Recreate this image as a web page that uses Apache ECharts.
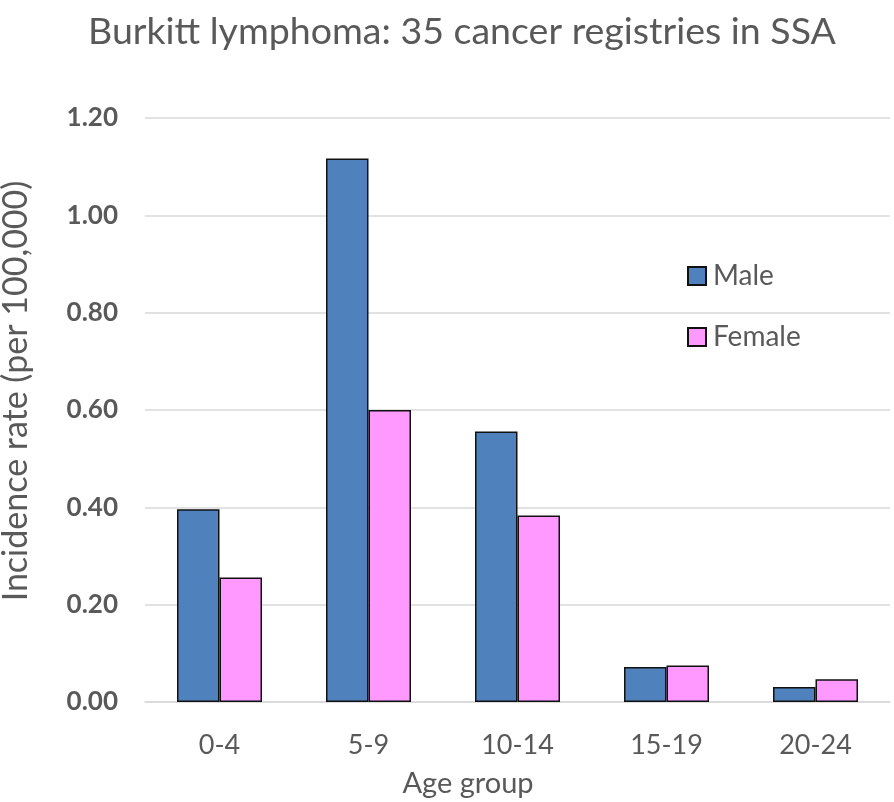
<!DOCTYPE html>
<html>
<head>
<meta charset="utf-8">
<script src="https://cdn.jsdelivr.net/npm/echarts@6/dist/echarts.min.js"></script>
<style>html,body{margin:0;padding:0;background:#fff}#c{width:894px;height:802px}</style>
</head>
<body>
<div id="c"></div>
<script>
const categories = ['0-4', '5-9', '10-14', '15-19', '20-24'];
const maleValues = [0.396, 1.117, 0.556, 0.072, 0.031];
const femaleValues = [0.256, 0.600, 0.383, 0.075, 0.047];
const seriesNames = ['Male', 'Female'];
const titleText = 'Burkitt lymphoma: 35 cancer registries in SSA';
const yTitle = 'Incidence rate (per 100,000)';
const xTitle = 'Age group';

const FONT = 'Lato';
const chart = echarts.init(document.getElementById('c'));
chart.setOption({
  animation: false,
  backgroundColor: '#fff',
  textStyle: { fontFamily: FONT },
  title: {
    text: titleText, left: 457, top: 8, textAlign: 'center',
    textStyle: { fontFamily: FONT, fontSize: 37.5, fontWeight: 'normal', color: '#595959' }
  },
  grid: { left: 145, right: 4, top: 118, bottom: 100 },
  legend: {
    orient: 'vertical', left: 682, top: 257,
    itemWidth: 18, itemHeight: 18, itemGap: 33,
    icon: 'rect',
    textStyle: { fontFamily: FONT, fontSize: 28, color: '#595959', padding: [0, 0, 0, 2] },
    data: seriesNames
  },
  xAxis: {
    type: 'category', data: categories,
    axisLine: { lineStyle: { color: '#d9d9d9', width: 1.5 } },
    axisTick: { show: false },
    axisLabel: { fontFamily: FONT, fontSize: 27, color: '#595959', margin: 30 }
  },
  yAxis: {
    type: 'value', min: 0, max: 1.2, interval: 0.2,
    axisLine: { show: false }, axisTick: { show: false },
    splitLine: { lineStyle: { color: '#d9d9d9', width: 1.5 } },
    axisLabel: { fontFamily: FONT, fontSize: 26, fontWeight: 'bold', color: '#595959', margin: 27,
      formatter: v => v.toFixed(2) }
  },
  graphic: [
    { type: 'text', x: 16, y: 391, rotation: Math.PI / 2,
      style: { text: yTitle, font: 'normal 34px ' + FONT, fill: '#595959', textAlign: 'center', textVerticalAlign: 'middle' } },
    { type: 'text', x: 468, y: 784,
      style: { text: xTitle, font: 'normal 29px ' + FONT, fill: '#595959', textAlign: 'center', textVerticalAlign: 'middle' } }
  ],
  series: [
    { name: seriesNames[0], type: 'bar', data: maleValues, barWidth: 42.5, barGap: '0%',
      itemStyle: { color: '#4F81BD', borderColor: '#111', borderWidth: 1.5 } },
    { name: seriesNames[1], type: 'bar', data: femaleValues, barWidth: 42.5, barGap: '0%',
      itemStyle: { color: '#FF99FF', borderColor: '#111', borderWidth: 1.5 } }
  ]
});
</script>
</body>
</html>
